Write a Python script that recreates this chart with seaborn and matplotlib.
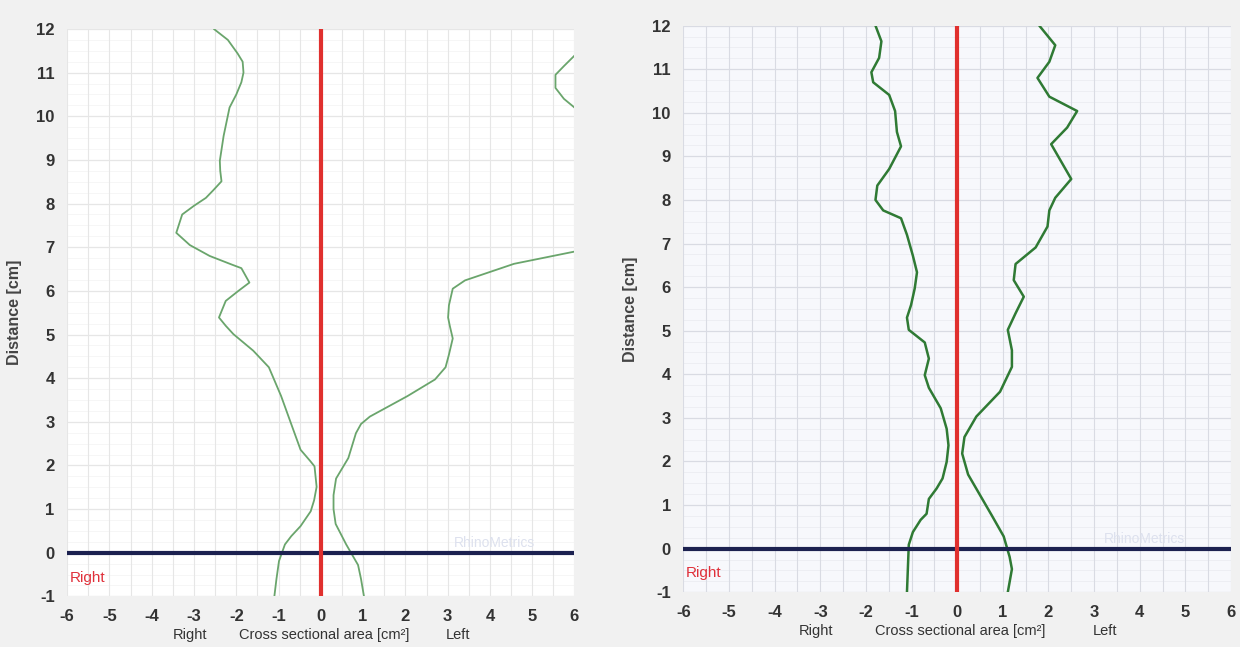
import numpy as np
import pandas as pd
import matplotlib
matplotlib.use("Agg")
import matplotlib.pyplot as plt
import matplotlib.transforms as mtransforms
import seaborn as sns

# ---- data ----
# Left chart: right nostril (negative side)
left_r_area = [-2.53, -2.20, -1.97, -1.85, -1.83, -1.88, -2.00, -2.16, -2.30, -2.39, -2.38,
               -2.35, -2.55, -2.72, -3.00, -3.28, -3.42, -3.10, -2.63, -2.10, -1.88, -1.69,
               -1.95, -2.25, -2.41, -2.25, -2.07, -1.60, -1.23, -0.94, -0.66, -0.48, -0.25,
               -0.15, -0.10, -0.16, -0.24, -0.48, -0.70, -0.85, -0.99, -1.05, -1.10]
left_r_dist = [12.0, 11.75, 11.44, 11.25, 11.0, 10.78, 10.5, 10.2, 9.55, 8.98, 8.75,
               8.51, 8.3, 8.13, 7.95, 7.75, 7.33, 7.05, 6.8, 6.6, 6.52, 6.19,
               6.0, 5.77, 5.39, 5.2, 5.01, 4.63, 4.25, 3.59, 2.84, 2.36, 2.1,
               1.98, 1.51, 1.2, 0.95, 0.61, 0.38, 0.19, -0.19, -0.6, -1.0]
# Left chart: left nostril (positive side), runs off the chart above ~7 cm
left_l_area = [1.02, 0.95, 0.88, 0.60, 0.35, 0.30, 0.30, 0.36, 0.65, 0.83, 0.95, 1.16,
               2.05, 2.70, 2.95, 3.03, 3.12, 3.05, 3.01, 3.03, 3.12, 3.41, 4.57, 6.0,
               8.0, 8.6, 7.2, 6.0, 5.75, 5.55, 5.55, 5.75, 6.0, 7.2]
left_l_dist = [-1.0, -0.6, -0.28, 0.19, 0.66, 1.0, 1.32, 1.70, 2.17, 2.74, 2.95, 3.12,
               3.59, 3.97, 4.25, 4.54, 4.91, 5.2, 5.39, 5.67, 6.05, 6.24, 6.62, 6.9,
               7.6, 9.0, 9.9, 10.2, 10.4, 10.65, 10.95, 11.15, 11.39, 12.0]

# Right chart: right nostril (negative side)
right_r_area = [-1.79, -1.66, -1.71, -1.88, -1.84, -1.49, -1.36, -1.32, -1.23, -1.49, -1.75,
                -1.79, -1.62, -1.23, -1.10, -0.97, -0.88, -0.93, -1.01, -1.10, -1.06, -0.71,
                -0.62, -0.71, -0.62, -0.36, -0.23, -0.19, -0.23, -0.32, -0.45, -0.62, -0.67,
                -0.80, -0.97, -1.06, -1.10]
right_r_dist = [12.0, 11.64, 11.26, 10.93, 10.70, 10.41, 10.04, 9.56, 9.23, 8.71, 8.33,
                8.0, 7.76, 7.58, 7.20, 6.72, 6.34, 5.97, 5.59, 5.30, 5.02, 4.73,
                4.36, 3.98, 3.69, 3.22, 2.75, 2.37, 1.99, 1.61, 1.38, 1.14, 0.80,
                0.66, 0.38, 0.09, -1.0]
# Right chart: left nostril (positive side)
right_l_area = [1.80, 2.15, 2.02, 1.76, 2.02, 2.63, 2.41, 2.06, 2.50, 2.15, 2.02, 1.98,
                1.72, 1.28, 1.24, 1.46, 1.28, 1.11, 1.20, 1.20, 0.94, 0.42, 0.16, 0.11,
                0.24, 0.50, 0.76, 1.02, 1.15, 1.20, 1.11]
right_l_dist = [12.0, 11.55, 11.17, 10.8, 10.37, 10.04, 9.66, 9.28, 8.48, 8.05, 7.76, 7.39,
                6.91, 6.53, 6.16, 5.78, 5.40, 5.02, 4.55, 4.17, 3.60, 3.03, 2.56, 2.18,
                1.70, 1.23, 0.76, 0.28, -0.19, -0.47, -1.0]

x_ticks = [-6, -5, -4, -3, -2, -1, 0, 1, 2, 3, 4, 5, 6]
y_ticks = [-1, 0, 1, 2, 3, 4, 5, 6, 7, 8, 9, 10, 11, 12]

sns.set_theme(style="white")
plt.rcParams["font.family"] = ["Liberation Sans", "DejaVu Sans"]

fig = plt.figure(figsize=(12.4, 6.47), dpi=100)
fig.patch.set_facecolor("#f1f1f1")

panels = [
    dict(rect=[0.0542, 0.0782, 0.4091, 0.877], face="#ffffff", line="#6aa56c", lw=1.3,
         r=(left_r_area, left_r_dist), l=(left_l_area, left_l_dist), grid="#e6e6e6"),
    dict(rect=[0.5511, 0.0847, 0.4416, 0.8757], face="#f7f8fc", line="#2f7a34", lw=1.8,
         r=(right_r_area, right_r_dist), l=(right_l_area, right_l_dist), grid="#d9dbe3"),
]

for p in panels:
    ax = fig.add_axes(p["rect"])
    ax.set_facecolor(p["face"])
    for (xa, ya) in (p["r"], p["l"]):
        df = pd.DataFrame({"area": xa, "dist": ya})
        sns.lineplot(data=df, x="area", y="dist", sort=False, estimator=None,
                     color=p["line"], lw=p["lw"], ax=ax, zorder=3)
    ax.set_xlim(-6, 6)
    ax.set_ylim(-1, 12)
    # grid
    for gx in np.arange(-6, 6.01, 0.5):
        ax.axvline(gx, color=p["grid"], lw=0.8, zorder=0)
    for gy in np.arange(-1, 12.01, 0.25):
        major = abs(gy - round(gy)) < 1e-6
        ax.axhline(gy, color=p["grid"], lw=0.9 if major else 0.4,
                   alpha=1.0 if major else 0.6, zorder=0)
    ax.axhline(0, color="#1c2150", lw=3, zorder=4)
    ax.axvline(0, color="#e0302e", lw=3, zorder=5)
    for s in ax.spines.values():
        s.set_visible(False)
    ax.set_xticks(x_ticks)
    ax.set_yticks(y_ticks)
    ax.set_xticklabels([str(t) for t in x_ticks])
    ax.set_yticklabels([str(t) for t in y_ticks])
    ax.tick_params(axis="both", length=0, labelsize=12, colors="#333333", pad=9)
    for lab in ax.get_xticklabels() + ax.get_yticklabels():
        lab.set_fontweight("bold")
    ax.set_xlabel("")
    ax.set_ylabel("Distance [cm]", fontsize=11.5, fontweight="bold", color="#444444",
                  labelpad=10)
    # red "Right" label
    ax.text(-5.95, -0.57, "Right", color="#e0303a", fontsize=11, va="center", ha="left")
    # faint watermark
    ax.text(4.1, 0.22, "RhinoMetrics", color="#dde1ee", fontsize=10, va="center",
            ha="center", zorder=2)
    # bottom axis caption
    trans = mtransforms.blended_transform_factory(ax.transData, ax.transAxes)
    for xx, txt in ((-3.1, "Right"), (0.07, "Cross sectional area [cm²]"), (3.25, "Left")):
        ax.text(xx, -0.068, txt, transform=trans, ha="center", va="center",
                fontsize=10.5, color="#333333")

fig.savefig("out.png", dpi=100, facecolor=fig.get_facecolor())
